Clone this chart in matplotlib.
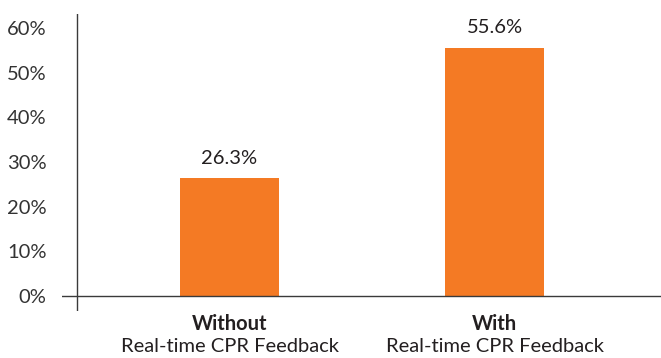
import matplotlib
matplotlib.use("Agg")
import matplotlib.pyplot as plt
import matplotlib.transforms as mtransforms

# Data
groups_bold = ["Without", "With"]
groups_sub = ["Real-time CPR Feedback", "Real-time CPR Feedback"]
values = [26.3, 55.6]
value_labels = ["26.3%", "55.6%"]
yticks = [0, 10, 20, 30, 40, 50, 60]
ytick_labels = ["0%", "10%", "20%", "30%", "40%", "50%", "60%"]

W, H = 661, 358
fig = plt.figure(figsize=(W / 100, H / 100), dpi=100)
# axes spanning px x 62..661, y 14..311 (from top)
ax = fig.add_axes([62 / W, 1 - 311 / H, (661 - 62) / W, (311 - 14) / H])

font = "Lato"
fs = 14.5
txt_color = "#231F20"
bar_color = "#F47A24"

x = list(range(len(values)))
ax.bar(x, values, width=0.374, color=bar_color, zorder=2)

ax.set_xlim(-0.632, 1.628)
ax.set_ylim(-3.36, 63.1)

for s in ax.spines.values():
    s.set_visible(False)

ax.axhline(0, color="#3a3a3a", lw=1.0, zorder=3)
ax.axvline(-0.575, color="#3a3a3a", lw=1.0, zorder=3)

ax.set_yticks(yticks)
ax.set_yticklabels(ytick_labels, fontsize=fs, family=font, color="#333333")
ax.tick_params(axis="y", length=0, pad=11)
ax.set_xticks([])

for xi, v, lab in zip(x, values, value_labels):
    ax.annotate(lab, (xi, v), xytext=(0, 8), textcoords="offset points",
                ha="center", va="bottom", fontsize=fs, family=font, color=txt_color)

trans = mtransforms.blended_transform_factory(ax.transData, fig.transFigure)
for xi, b, s in zip(x, groups_bold, groups_sub):
    ax.text(xi, 1 - 324 / H, b, transform=trans, ha="center", va="center",
            fontsize=fs, fontweight="bold", family=font, color=txt_color)
    ax.text(xi, 1 - 347 / H, s, transform=trans, ha="center", va="center",
            fontsize=fs, family=font, color=txt_color)

fig.savefig("out.png", dpi=100)
